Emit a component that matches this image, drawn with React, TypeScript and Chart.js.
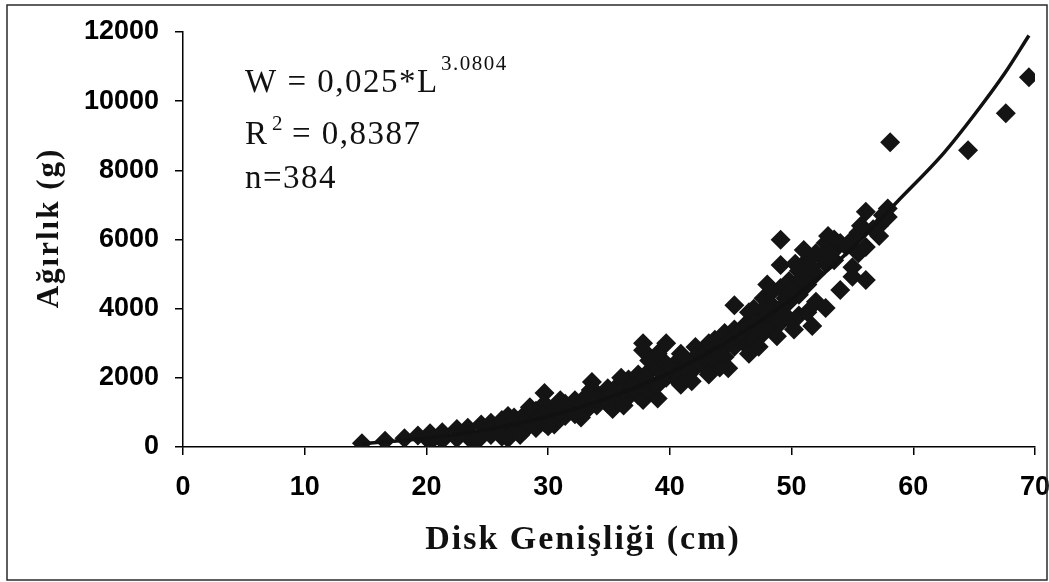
import React, { useEffect, useRef } from "react";
import { Chart, registerables } from "chart.js";

Chart.register(...registerables);

// Scatter data: disk width (cm) and weight (g)
const diskWidth = [
  14.7, 16.6, 18.2, 19.3, 20.3, 20.3, 21.3, 21.3, 22.5, 22.5,
  23.4, 23.4, 24.5, 24.5, 25.3, 25.3, 25.3, 26.2, 26.2, 26.2,
  27.2, 27.2, 27.2, 28.1, 28.1, 28.1, 29.0, 29.0, 29.0, 29.7,
  29.7, 29.7, 29.7, 30.5, 30.5, 30.5, 31.4, 31.4, 31.4, 32.2,
  32.2, 32.2, 33.1, 33.1, 33.1, 33.6, 34.0, 34.0, 34.0, 34.9,
  34.9, 34.9, 35.8, 35.8, 35.8, 36.6, 36.6, 36.6, 37.4, 37.4,
  37.4, 37.8, 37.8, 37.8, 38.3, 38.3, 38.3, 38.3, 39.0, 39.0,
  39.0, 39.0, 39.7, 39.7, 39.7, 40.4, 40.4, 40.4, 41.2, 41.2,
  41.2, 42.1, 42.1, 42.1, 42.9, 42.9, 43.7, 43.7, 43.7, 44.5,
  44.5, 44.5, 44.8, 45.3, 45.3, 45.3, 46.1, 46.1, 46.1, 46.9,
  46.9, 46.9, 46.9, 47.7, 47.7, 47.7, 47.7, 48.4, 48.4, 48.4,
  48.4, 49.1, 49.1, 49.1, 49.1, 49.1, 49.8, 49.8, 49.8, 50.6,
  50.6, 50.6, 50.6, 51.3, 51.3, 51.3, 51.3, 52.0, 52.0, 52.0,
  52.8, 52.8, 52.8, 53.5, 53.5, 53.5, 54.0, 54.0, 55.0, 55.0,
  55.0, 55.5, 55.5, 56.1, 56.1, 56.1, 57.2, 57.2, 57.9, 57.9,
  58.1, 64.5, 67.6, 69.5,
  24.0, 26.7, 27.7, 26.7, 28.5, 30.0, 31.0, 32.7, 33.5, 35.3,
  36.0, 36.2, 40.9, 40.9, 41.8, 43.2, 43.2, 44.1, 46.5, 46.5,
  47.3, 48.0, 48.8, 50.2, 50.3, 51.0, 51.7, 53.0,
  30.9, 31.8, 32.6, 33.9, 35.2, 36.1, 37.0, 38.0, 39.4, 40.0,
  41.6, 42.5, 43.4, 44.0, 45.0, 45.7, 46.3, 47.0, 48.0, 49.5,
  50.0, 50.9, 51.6, 52.4, 53.2, 54.5, 55.7, 56.7, 57.5,
];
const weight = [
  110, 180, 250, 330, 400, 150, 430, 200, 520, 250,
  560, 300, 650, 300, 700, 350, 500, 780, 300, 550,
  850, 450, 650, 950, 500, 700, 1050, 550, 800, 1560,
  1250, 700, 950, 1100, 800, 650, 1250, 900, 1050, 1350,
  950, 1150, 1450, 1050, 1250, 1880, 1550, 1200, 1350, 1700,
  1250, 1450, 1800, 1350, 1550, 1950, 1450, 1700, 2100, 1500,
  1800, 3000, 2800, 1360, 2200, 1600, 1900, 2500, 2300, 1400,
  1800, 2700, 3000, 2400, 2000, 2400, 2000, 2200, 2500, 2100,
  2300, 2890, 2300, 2600, 2700, 2300, 2800, 2400, 3100, 3300,
  2600, 2900, 2280, 4100, 3400, 2900, 3500, 3000, 3200, 3700,
  3100, 3400, 4000, 4300, 3700, 3300, 4000, 4500, 3800, 3500,
  4100, 5990, 5260, 4600, 4000, 3600, 4800, 4200, 3700, 5100,
  4400, 3800, 4700, 5400, 4700, 3900, 5000, 5600, 5000, 4200,
  5900, 5300, 4020, 6000, 5700, 5400, 4540, 5900, 4925, 5200,
  6000, 5600, 6200, 6800, 4830, 5780, 6400, 6100, 6650, 6900,
  8815, 8580, 9650, 10690,
  150, 250, 350, 900, 1150, 600, 1350, 850, 1650, 1100,
  2000, 1200, 1800, 2700, 1900, 2100, 3000, 2300, 2700, 3900,
  2900, 4700, 3200, 3400, 5300, 5700, 3500, 6100,
  1000, 1100, 1200, 1400, 1550, 1650, 1750, 2000, 2100, 2300,
  2400, 2450, 2600, 2750, 3100, 3300, 3500, 3600, 3900, 4300,
  4500, 4900, 5200, 5500, 5600, 5800, 6400, 6300, 6700,
];

// Fitted power curve
const trendWidth = [14.7, 20, 25, 30, 35, 40, 45, 50, 55, 58.7, 62.5, 65, 67.5, 69.5];
const trendWeight = [100, 255, 505, 890, 1430, 2150, 3100, 4280, 5750, 7100, 8500, 9600, 10800, 11900];

const xMin = 0;
const xMax = 70;
const xStep = 10;
const yMin = 0;
const yMax = 12000;
const yStep = 2000;

const xTitle = "Disk Genişliği (cm)";
const yTitle = "Ağırlık (g)";
const eqMain = "W = 0,025*L";
const eqExp = "3.0804";
const r2Main = "R";
const r2Sup = "2";
const r2Rest = "= 0,8387";
const nText = "n=384";

const textPlugin = {
  id: "textPlugin",
  afterDraw(chart: any) {
    const ctx = chart.ctx as CanvasRenderingContext2D;
    ctx.save();
    // outer frame
    ctx.strokeStyle = "#2a2a2a";
    ctx.lineWidth = 1.5;
    ctx.strokeRect(7, 5, 1040, 575);

    ctx.fillStyle = "#111";
    ctx.textAlign = "left";
    ctx.textBaseline = "alphabetic";
    (ctx as any).letterSpacing = "1.5px";
    ctx.font = '33px "Liberation Serif", "Times New Roman", serif';
    ctx.fillText(eqMain, 245, 92);
    ctx.fillText(r2Main, 245, 144);
    ctx.fillText(r2Rest, 292, 144);
    ctx.fillText(nText, 245, 188);
    ctx.font = '21px "Liberation Serif", "Times New Roman", serif';
    (ctx as any).letterSpacing = "1.5px";
    ctx.fillText(eqExp, 441, 70);
    ctx.fillText(r2Sup, 272, 130);

    // x title
    ctx.font = 'bold 34px "Liberation Serif", "Times New Roman", serif';
    (ctx as any).letterSpacing = "2px";
    ctx.textAlign = "center";
    ctx.fillText(xTitle, 583, 549);

    // y title
    ctx.translate(58, 228);
    ctx.rotate(-Math.PI / 2);
    ctx.font = 'bold 31px "Liberation Serif", "Times New Roman", serif';
    ctx.fillText(yTitle, 0, 0);
    ctx.restore();
  },
};

export default function App() {
  const canvasRef = useRef<HTMLCanvasElement | null>(null);

  useEffect(() => {
    const canvas = canvasRef.current;
    if (!canvas) return;
    const points = diskWidth.map((x, i) => ({ x, y: weight[i] }));
    const trend = trendWidth.map((x, i) => ({ x, y: trendWeight[i] }));
    const tickFont = { family: '"Liberation Sans", Arial, sans-serif', size: 27, weight: "bold" as const };

    const chart = new Chart(canvas, {
      type: "scatter",
      data: {
        datasets: [
          {
            type: "line",
            data: trend,
            borderColor: "#111",
            borderWidth: 3.5,
            pointRadius: 0,
            cubicInterpolationMode: "monotone",
            fill: false,
            order: 0,
          } as any,
          {
            type: "scatter",
            data: points,
            pointStyle: "rectRot",
            pointRadius: 10,
            backgroundColor: "#141414",
            borderColor: "#141414",
            borderWidth: 0,
            order: 1,
          } as any,
        ],
      },
      options: {
        responsive: false,
        animation: false,
        events: [],
        layout: { padding: { left: 0, right: 14, top: 32, bottom: 0 } },
        plugins: { legend: { display: false }, tooltip: { enabled: false } },
        scales: {
          x: {
            type: "linear",
            min: xMin,
            max: xMax,
            ticks: {
              stepSize: xStep,
              color: "#000",
              font: tickFont,
              padding: 16,
              maxRotation: 0,
              callback: (v: any) => String(v),
            },
            grid: { display: true, drawOnChartArea: false, drawTicks: true, tickLength: 8, color: "#000", lineWidth: 1.5 },
            border: { display: true, color: "#000", width: 1.5 },
            afterFit: (s: any) => {
              s.height = 135;
              s.paddingLeft = 0;
              s.paddingRight = 0;
            },
          },
          y: {
            type: "linear",
            min: yMin,
            max: yMax,
            ticks: { stepSize: yStep, color: "#000", font: tickFont, padding: 16, callback: (v: any) => String(v) },
            grid: { display: true, drawOnChartArea: false, drawTicks: true, tickLength: 8, color: "#000", lineWidth: 1.5 },
            border: { display: true, color: "#000", width: 1.5 },
            afterFit: (s: any) => {
              s.width = 183;
              s.paddingTop = 0;
              s.paddingBottom = 0;
            },
          },
        },
      },
      plugins: [textPlugin],
    });
    return () => chart.destroy();
  }, []);

  return (
    <div style={{ position: "absolute", left: 0, top: 0, width: 1049, height: 582, background: "#fff" }}>
      <canvas ref={canvasRef} width={1049} height={582} style={{ display: "block", width: 1049, height: 582 }} />
    </div>
  );
}
